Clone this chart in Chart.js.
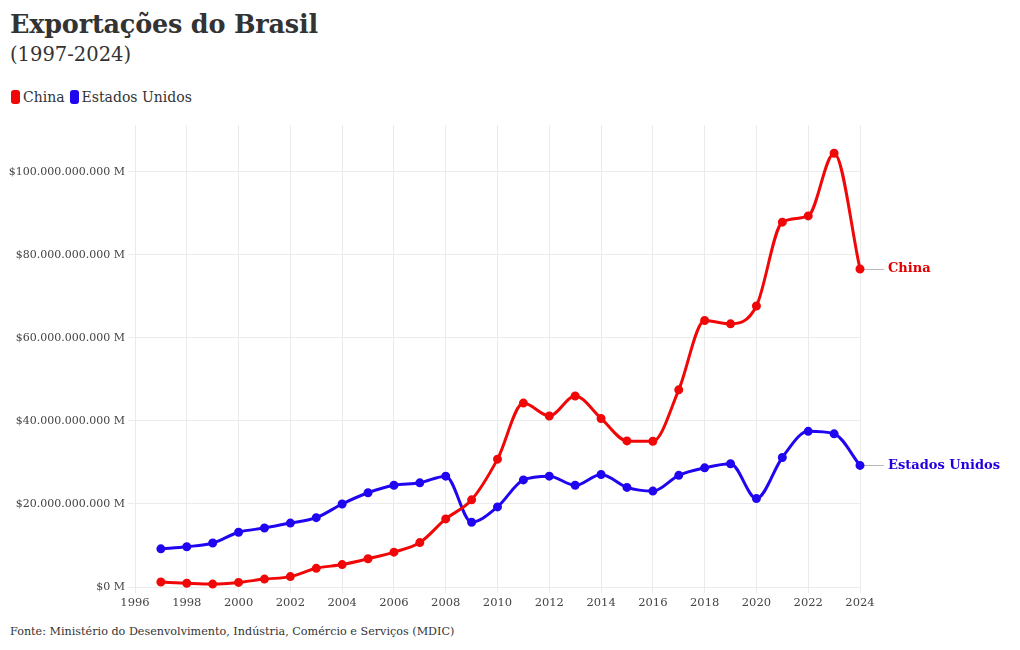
<!DOCTYPE html>
<html>
<head>
<meta charset="utf-8">
<script src="https://cdn.jsdelivr.net/npm/chart.js@4"></script>
<style>
  html, body { margin:0; padding:0; background:#fff; }
  body { width:1020px; height:650px; position:relative; overflow:hidden; font-family:"DejaVu Serif", serif; color:#333; }
  #title { position:absolute; left:10px; top:9px; font-size:25.5px; font-weight:bold; color:#333; letter-spacing:-0.2px; }
  #subtitle { position:absolute; left:10px; top:43px; font-size:19.5px; color:#333; }
  #legend { position:absolute; left:11px; top:89px; font-size:14px; color:#333; display:flex; align-items:center; }
  .lg { display:flex; align-items:center; margin-right:5px; }
  .sw { width:9px; height:14px; border-radius:3px; margin-right:3px; display:inline-block; }
  #source { position:absolute; left:10px; top:625px; font-size:11.2px; color:#333; }
  #wrap { position:absolute; left:0; top:115px; width:1020px; height:505px; }
</style>
</head>
<body>
<div id="title">Exportações do Brasil</div>
<div id="subtitle">(1997-2024)</div>
<div id="legend">
  <span class="lg"><span class="sw" style="background:rgb(240,8,8)"></span>China</span>
  <span class="lg"><span class="sw" style="background:rgb(32,6,240)"></span>Estados Unidos</span>
</div>
<div id="wrap"><canvas id="c"></canvas></div>
<div id="source">Fonte: Ministério do Desenvolvimento, Indústria, Comércio e Serviços (MDIC)</div>
<script>
const years = [1997,1998,1999,2000,2001,2002,2003,2004,2005,2006,2007,2008,2009,2010,2011,2012,2013,2014,2015,2016,2017,2018,2019,2020,2021,2022,2023,2024];
// values in billions of USD
const chinaBn = [1.2,0.9,0.7,1.1,1.9,2.5,4.5,5.4,6.8,8.4,10.7,16.4,21.0,30.8,44.3,41.2,46.0,40.6,35.2,35.1,47.5,64.2,63.4,67.7,87.9,89.4,104.5,76.6];
const usaBn = [9.2,9.7,10.6,13.2,14.2,15.4,16.7,20.0,22.7,24.5,25.1,26.7,15.6,19.3,25.8,26.7,24.5,27.1,24.0,23.1,26.9,28.7,29.7,21.3,31.2,37.5,36.9,29.3];
const seriesNames = ["China", "Estados Unidos"];
const yTicks = [0, 20e9, 40e9, 60e9, 80e9, 100e9];
const xTicks = [1996,1998,2000,2002,2004,2006,2008,2010,2012,2014,2016,2018,2020,2022,2024];

const RED = 'rgb(240,8,8)';
const BLUE = 'rgb(32,6,240)';
const LABEL_COLORS = ['#e00000', '#2200dd'];

function fmtNum(v) {
  const s = Math.round(v).toString();
  return s.replace(/\B(?=(\d{3})+(?!\d))/g, '.');
}

const toPts = arr => arr.map((v, i) => ({x: years[i], y: v * 1e9}));

const endLabels = {
  id: 'endLabels',
  beforeDatasetsDraw(chart) {
    const ctx = chart.ctx;
    chart.data.datasets.forEach((ds, i) => {
      const meta = chart.getDatasetMeta(i);
      const pt = meta.data[meta.data.length - 1];
      if (!pt) return;
      ctx.save();
      ctx.strokeStyle = '#b8b8b8';
      ctx.lineWidth = 1;
      ctx.beginPath();
      ctx.moveTo(pt.x + 4, Math.round(pt.y) + 0.5);
      ctx.lineTo(pt.x + 24, Math.round(pt.y) + 0.5);
      ctx.stroke();
      ctx.fillStyle = LABEL_COLORS[i];
      ctx.font = 'bold 13px "DejaVu Serif", serif';
      ctx.textAlign = 'left';
      ctx.textBaseline = 'middle';
      ctx.fillText(seriesNames[i], pt.x + 28, pt.y);
      ctx.restore();
    });
  }
};

new Chart(document.getElementById('c'), {
  type: 'line',
  data: {
    datasets: [
      { label: seriesNames[0], data: toPts(chinaBn), borderColor: RED, backgroundColor: RED, borderWidth: 3, pointRadius: 3, pointHoverRadius: 3, cubicInterpolationMode: 'monotone', clip: false },
      { label: seriesNames[1], data: toPts(usaBn), borderColor: BLUE, backgroundColor: BLUE, borderWidth: 3, pointRadius: 3, pointHoverRadius: 3, cubicInterpolationMode: 'monotone', clip: false }
    ]
  },
  options: {
    responsive: true,
    maintainAspectRatio: false,
    animation: false,
    layout: { padding: { top: 10, right: 160, bottom: 0, left: 0 } },
    plugins: { legend: { display: false }, tooltip: { enabled: false } },
    scales: {
      x: {
        type: 'linear',
        min: 1996, max: 2024,
        afterBuildTicks: s => { s.ticks = xTicks.map(v => ({value: v})); },
        afterFit: s => { s.height = 33; },
        grid: { color: '#ebebeb', tickLength: 6, drawTicks: true },
        border: { display: false },
        ticks: { color: '#444', padding: 3, font: { family: '"DejaVu Serif", serif', size: 11.5 }, callback: v => String(v), maxRotation: 0, autoSkip: false }
      },
      y: {
        type: 'linear',
        min: 0, max: 111.3e9,
        afterBuildTicks: s => { s.ticks = yTicks.map(v => ({value: v})); },
        afterFit: s => { s.width = 135; },
        grid: { color: '#ebebeb', tickLength: 7 },
        border: { display: false },
        ticks: { color: '#444', padding: 3, font: { family: '"DejaVu Serif", serif', size: 11 }, callback: v => '$' + fmtNum(v) + ' M' }
      }
    }
  },
  plugins: [endLabels]
});
</script>
</body>
</html>
